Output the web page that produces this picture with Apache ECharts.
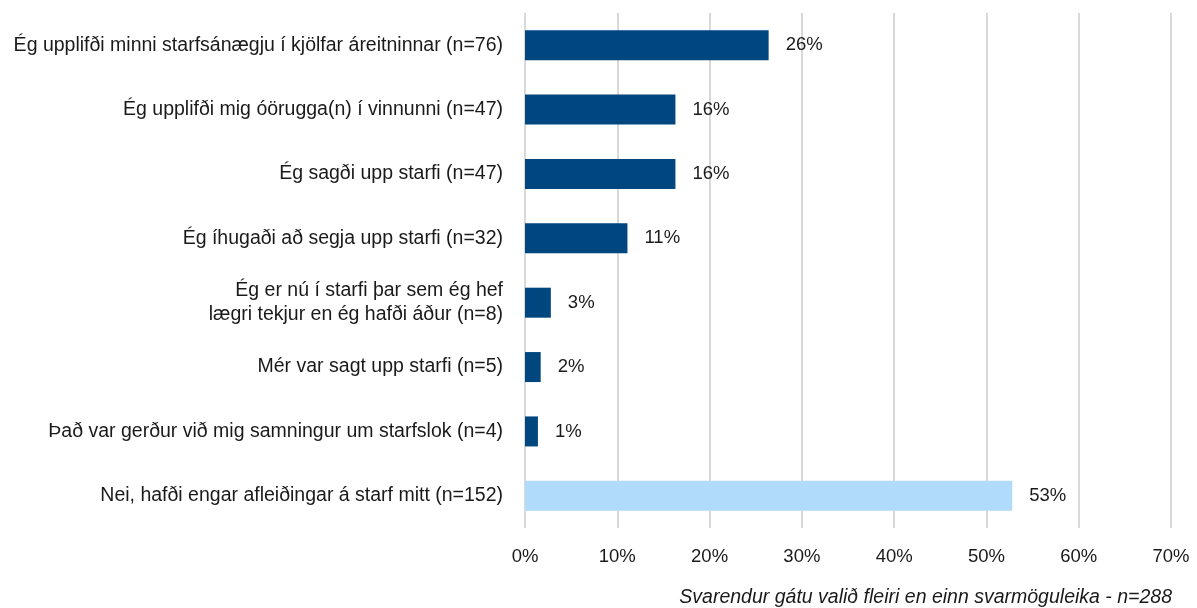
<!DOCTYPE html>
<html>
<head>
<meta charset="utf-8">
<script src="https://cdn.jsdelivr.net/npm/echarts@6/dist/echarts.min.js"></script>
<style>
  html, body { margin: 0; padding: 0; background: #fff; }
  #chart-container { width: 1197px; height: 608px; }
</style>
</head>
<body>
<div id="chart-container"></div>
<script>
// categories, top to bottom
const categories = [
  'Ég upplifði minni starfsánægju í kjölfar áreitninnar (n=76)',
  'Ég upplifði mig óörugga(n) í vinnunni (n=47)',
  'Ég sagði upp starfi (n=47)',
  'Ég íhugaði að segja upp starfi (n=32)',
  'Ég er nú í starfi þar sem ég hef\nlægri tekjur en ég hafði áður (n=8)',
  'Mér var sagt upp starfi (n=5)',
  'Það var gerður við mig samningur um starfslok (n=4)',
  'Nei, hafði engar afleiðingar á starf mitt (n=152)'
];
// share of respondents, percent
const values = [26.4, 16.3, 16.3, 11.1, 2.8, 1.7, 1.4, 52.8];
const valueLabels = ['26%', '16%', '16%', '11%', '3%', '2%', '1%', '53%'];
const xTicks = [0, 10, 20, 30, 40, 50, 60, 70];
const footnote = 'Svarendur gátu valið fleiri en einn svarmöguleika - n=288';

const darkBlue = '#00467f';
const lightBlue = '#b0dbfb';

const chartContainer = document.getElementById('chart-container');
const myChart = echarts.init(chartContainer, null, { renderer: 'canvas' });

const fontFamily = '"Liberation Sans", Arial, sans-serif';

let option = {
  animation: false,
  textStyle: { fontFamily: fontFamily },
  grid: { left: 525, right: 26, top: 13, bottom: 80, outerBoundsMode: 'none' },
  graphic: [{
    type: 'text',
    right: 25,
    bottom: 0,
    style: {
      text: footnote,
      font: 'italic 19.5px ' + fontFamily,
      fill: '#1a1a1a'
    }
  }],
  xAxis: {
    type: 'value',
    min: xTicks[0],
    max: xTicks[xTicks.length - 1],
    interval: 10,
    axisLine: { show: false },
    axisTick: { show: false },
    axisLabel: {
      formatter: '{value}%',
      color: '#1a1a1a',
      fontSize: 18.5,
      margin: 19
    },
    splitLine: { lineStyle: { color: '#d9d9d9', width: 2 } }
  },
  yAxis: {
    type: 'category',
    inverse: true,
    data: categories,
    axisLine: { show: false },
    axisTick: { show: false },
    axisLabel: {
      color: '#1a1a1a',
      fontSize: 19.5,
      margin: 22,
      lineHeight: 24,
      align: 'right'
    }
  },
  series: [{
    type: 'bar',
    barWidth: 30,
    data: values.map((v, i) => ({
      value: v,
      itemStyle: { color: i === values.length - 1 ? lightBlue : darkBlue }
    })),
    label: {
      show: true,
      position: 'right',
      distance: 17,
      color: '#1a1a1a',
      fontSize: 18.5,
      formatter: p => valueLabels[p.dataIndex]
    }
  }]
};

myChart.setOption(option);
window.addEventListener('resize', myChart.resize);
</script>
</body>
</html>
